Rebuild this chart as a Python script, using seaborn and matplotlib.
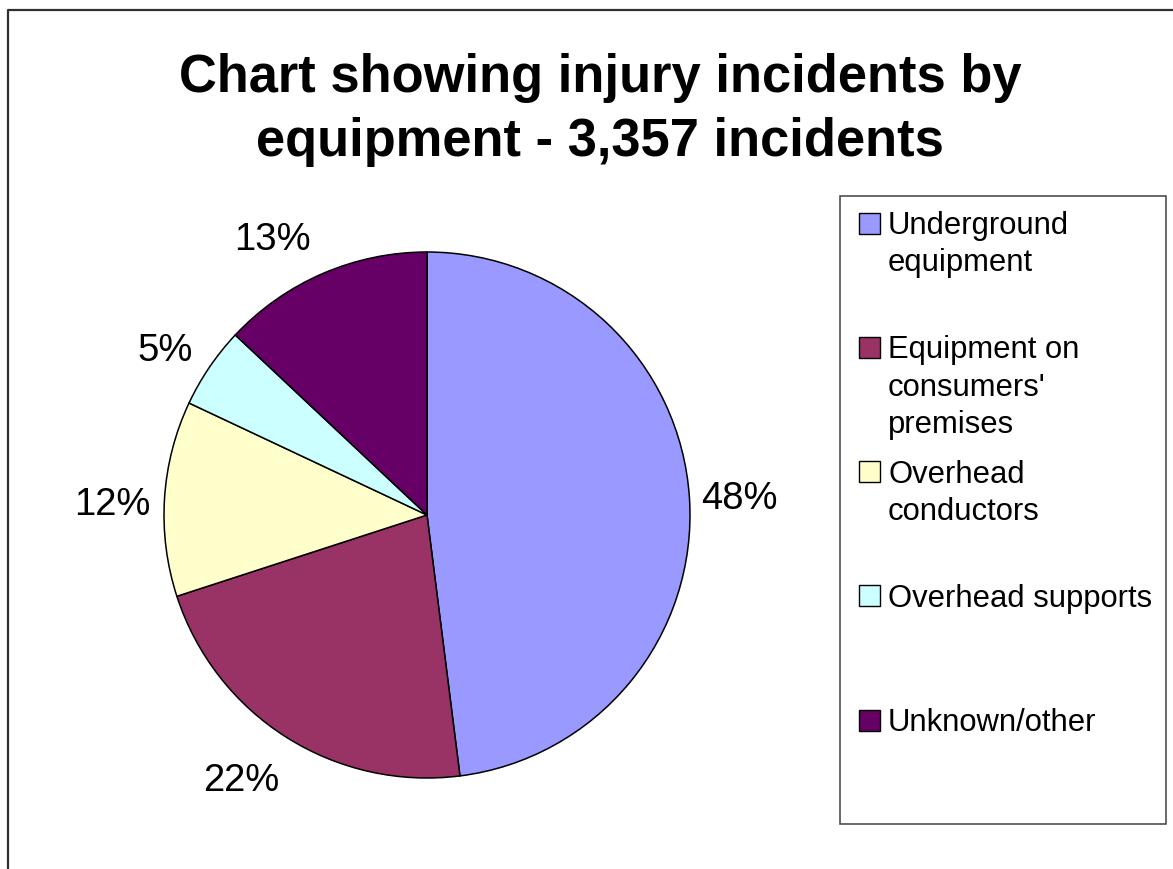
import matplotlib
matplotlib.use("Agg")
import matplotlib.pyplot as plt
from matplotlib.lines import Line2D
from matplotlib.patches import Rectangle
from matplotlib.transforms import ScaledTranslation
import seaborn as sns

# ---- data ----
categories = ["Underground\nequipment", "Equipment on\nconsumers'\npremises",
              "Overhead\nconductors", "Overhead supports", "Unknown/other"]
shares = [48, 22, 12, 5, 13]
colors_hex = ["#9999FF", "#993366", "#FFFFCC", "#CCFFFF", "#660066"]
title = "Chart showing injury incidents by\nequipment - 3,357 incidents"

sns.set_style("white")
plt.rcParams['font.family'] = ['Liberation Sans', 'DejaVu Sans']
plt.rcParams['text.color'] = 'black'
palette = sns.color_palette(colors_hex)

W, H = 1173, 869
fig = plt.figure(figsize=(W / 100, H / 100), dpi=100)
fig.patch.set_facecolor("white")

def fx(px):
    return px / W

def fy(py):
    return 1 - py / H

# outer border (left and top visible)
fig.add_artist(Line2D([fx(8), fx(8), fx(W + 5)], [fy(H + 5), fy(10), fy(10)],
                      transform=fig.transFigure, color="#303030", lw=1.6))

# title (va='baseline' refers to the last line)
fig.text(fx(600), fy(156), title, ha="center", va="baseline", color="black",
         fontsize=37.8, fontweight="bold", linespacing=1.36)

# pie
cx, cy, r, half = 427, 515, 263, 300
ax = fig.add_axes([fx(cx - half), fy(cy + half), 2 * half / W, 2 * half / H])
wedges, texts, autotexts = ax.pie(
    shares, colors=palette, startangle=90, counterclock=False, radius=1,
    autopct=lambda p: f"{p:.0f}%", pctdistance=1.19,
    wedgeprops=dict(edgecolor="black", linewidth=1.1),
    textprops=dict(fontsize=27.5, color="black"))
# small nudges (pixels: right, down) to follow the original label placement
nudges = [(0, 0), (-18, -2), (-2, 6), (-3, 8), (-30, 8)]
for t, (dx, dy) in zip(autotexts, nudges):
    t.set_va("center_baseline")
    t.set_transform(ax.transData + ScaledTranslation(dx / 100, -dy / 100,
                                                     fig.dpi_scale_trans))
lim = half / r
ax.set_xlim(-lim, lim)
ax.set_ylim(-lim, lim)
ax.set_aspect("equal")
ax.axis("off")

# legend box
lx0, ly0, lx1, ly1 = 840, 196, 1166, 824
fig.add_artist(Rectangle((fx(lx0), fy(ly1)), fx(lx1) - fx(lx0), fy(ly0) - fy(ly1),
                         transform=fig.transFigure, facecolor="white",
                         edgecolor="#404040", lw=1.1))
base0, step, line_px = 234, 124.3, 37.5
sq = 21
for i, (lab, col) in enumerate(zip(categories, palette)):
    b = base0 + i * step
    n = lab.count("\n")
    fig.add_artist(Rectangle((fx(859), fy(b - 11 + sq / 2)), sq / W, sq / H,
                             transform=fig.transFigure, facecolor=col,
                             edgecolor="black", lw=1.0))
    fig.text(fx(888), fy(b + n * line_px), lab, ha="left", va="baseline",
             fontsize=22.3, linespacing=1.33, color="black")

fig.savefig("out.png", dpi=100)
